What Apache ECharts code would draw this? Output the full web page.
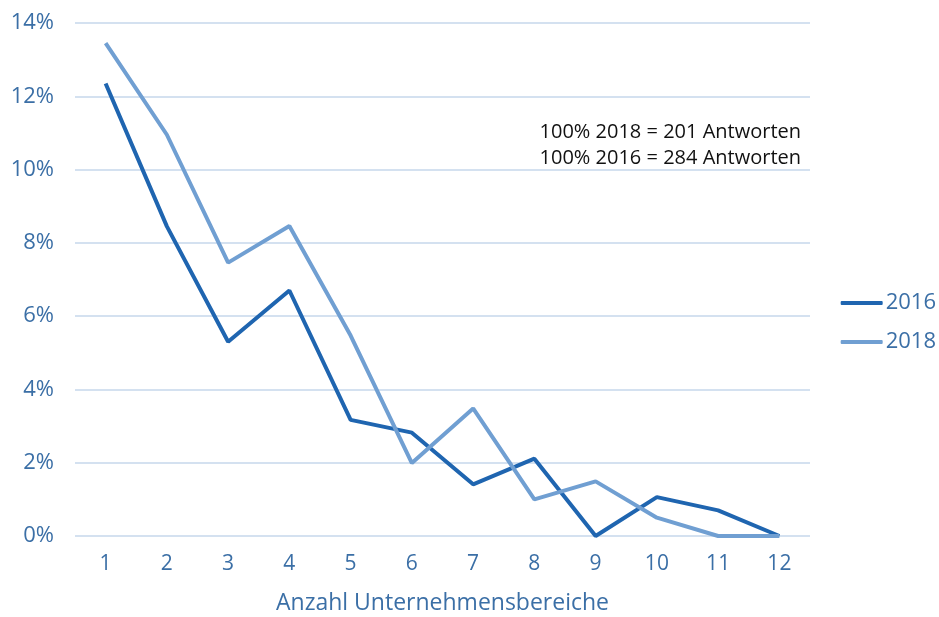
<!DOCTYPE html>
<html>
<head>
<meta charset="utf-8">
<script src="https://cdn.jsdelivr.net/npm/echarts@6/dist/echarts.min.js"></script>
<style>
  html, body { margin: 0; padding: 0; background: #fff; }
  #chart { width: 939px; height: 617px; }
</style>
</head>
<body>
<div id="chart"></div>
<script>
// Anzahl Unternehmensbereiche
const categories = ['1', '2', '3', '4', '5', '6', '7', '8', '9', '10', '11', '12'];
// Anteil in %
const values2016 = [12.35, 8.45, 5.3, 6.7, 3.17, 2.82, 1.41, 2.11, 0, 1.06, 0.7, 0];
const values2018 = [13.45, 10.95, 7.46, 8.46, 5.47, 1.99, 3.48, 1.0, 1.49, 0.5, 0, 0];
const notes = ['100% 2018 = 201 Antworten', '100% 2016 = 284 Antworten'];

const chart = echarts.init(document.getElementById('chart'), null, { renderer: 'canvas' });
const labelColor = '#3b6fa6';
const fontFam = '"Open Sans", "Noto Sans", sans-serif';

const option = {
  animation: false,
  grid: { left: 75, right: 129, top: 23, bottom: 81, outerBoundsMode: 'none' },
  legend: {
    orient: 'vertical',
    right: -2,
    top: 287,
    itemGap: 17,
    itemWidth: 42,
    itemHeight: 4,
    icon: 'roundRect',
    textStyle: { color: labelColor, fontSize: 22, fontFamily: fontFam, padding: [0, 0, 0, -2] },
    data: ['2016', '2018']
  },
  xAxis: {
    type: 'category',
    data: categories,
    boundaryGap: true,
    name: 'Anzahl Unternehmensbereiche',
    nameLocation: 'middle',
    nameGap: 56,
    nameTextStyle: { color: labelColor, fontSize: 23, fontFamily: fontFam },
    axisLine: { show: false },
    axisTick: { show: false },
    axisLabel: { color: labelColor, fontSize: 21, margin: 18, fontFamily: fontFam }
  },
  yAxis: {
    type: 'value',
    min: 0,
    max: 14,
    interval: 2,
    axisLine: { show: false },
    axisTick: { show: false },
    axisLabel: { color: labelColor, fontSize: 22, margin: 21, fontFamily: fontFam, formatter: '{value}%' },
    splitLine: { lineStyle: { color: '#c6d7eb', width: 1.5 } }
  },
  series: [
    {
      name: '2016',
      type: 'line',
      data: values2016,
      symbol: 'none',
      itemStyle: { color: '#1f65b0' },
      lineStyle: { color: '#1f65b0', width: 4 }
    },
    {
      name: '2018',
      type: 'line',
      data: values2018,
      symbol: 'none',
      itemStyle: { color: '#709fd2' },
      lineStyle: { color: '#709fd2', width: 4 }
    }
  ],
  graphic: [
    {
      type: 'text',
      right: 138,
      top: 119,
      style: {
        text: notes.join('\n'),
        fill: '#111',
        font: '20px ' + fontFam,
        lineHeight: 26,
        align: 'right'
      }
    }
  ]
};

chart.setOption(option);
window.addEventListener('resize', () => chart.resize());
</script>
</body>
</html>
